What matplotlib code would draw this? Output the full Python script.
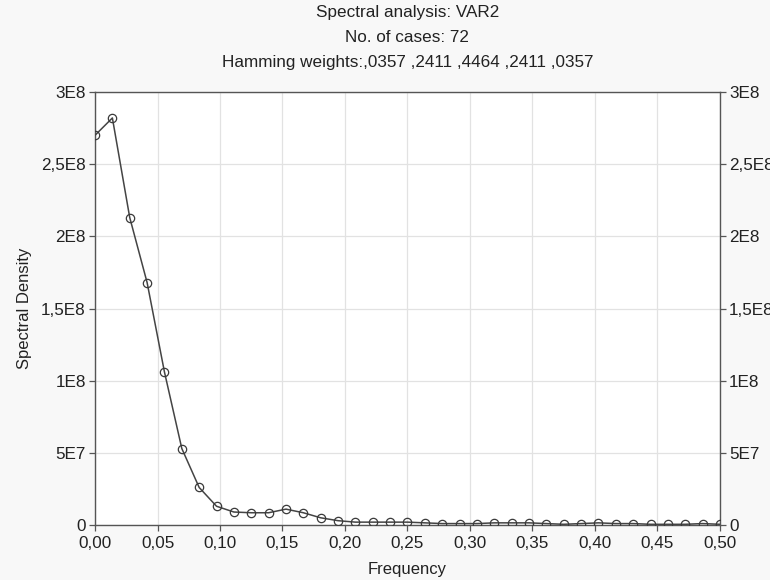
import numpy as np
import matplotlib.pyplot as plt

plt.rcParams['font.family'] = ['Liberation Sans', 'DejaVu Sans']

# Spectral density estimates (units of 1E8), k = 0..36, freq = k/72
n_cases = 72
density_e8 = [2.70, 2.82, 2.13, 1.68, 1.06, 0.53, 0.26, 0.13, 0.09, 0.085,
              0.085, 0.11, 0.085, 0.05, 0.03, 0.02, 0.02, 0.02, 0.02, 0.015,
              0.01, 0.01, 0.01, 0.015, 0.015, 0.015, 0.01, 0.005, 0.01, 0.015,
              0.01, 0.01, 0.005, 0.005, 0.005, 0.01, 0.005]
freq = np.arange(len(density_e8)) / n_cases
density = np.array(density_e8) * 1e8

x_ticks = [0.0, 0.05, 0.10, 0.15, 0.20, 0.25, 0.30, 0.35, 0.40, 0.45, 0.50]
x_labels = ['0,00', '0,05', '0,10', '0,15', '0,20', '0,25', '0,30', '0,35', '0,40', '0,45', '0,50']
y_ticks = [0, 0.5e8, 1e8, 1.5e8, 2e8, 2.5e8, 3e8]
y_labels = ['0', '5E7', '1E8', '1,5E8', '2E8', '2,5E8', '3E8']

titles = ['Spectral analysis: VAR2',
          'No. of cases: 72',
          'Hamming weights:,0357 ,2411 ,4464 ,2411 ,0357']

fig = plt.figure(figsize=(7.7, 5.8), dpi=100, facecolor='#f8f8f8')
ax = fig.add_axes([0.1234, 0.0948, 0.8116, 0.7466])
ax.set_facecolor('white')

ax.plot(freq, density, color='#444444', lw=1.1, marker='o', ms=6,
        mfc='none', mec='#3a3a3a', mew=0.9, zorder=3)

ax.set_xlim(0, 0.5)
ax.set_ylim(0, 3e8)
ax.set_xticks(x_ticks)
ax.set_xticklabels(x_labels)
ax.set_yticks(y_ticks)
ax.set_yticklabels(y_labels)
ax.grid(True, color='#e2e2e2', lw=0.9)
ax.set_axisbelow(True)

ax.tick_params(axis='both', direction='out', length=4, width=0.9, color='#555555',
               labelsize=12.3, labelcolor='#222222')
ax.tick_params(axis='x', pad=4)
ax.tick_params(axis='y', pad=2.5, right=True, labelright=True)
for s in ax.spines.values():
    s.set_color('#555555')
    s.set_linewidth(1.0)

ax.set_xlabel('Frequency', fontsize=12, color='#222222', labelpad=8)
ax.set_ylabel('Spectral Density', fontsize=12, color='#222222', labelpad=6.5)

for i, t in enumerate(titles):
    fig.text(0.529, 1 - (12 + 25 * i) / 580, t, ha='center', va='center',
             fontsize=12.3, color='#222222')

fig.savefig('out.png', dpi=100, facecolor=fig.get_facecolor())
